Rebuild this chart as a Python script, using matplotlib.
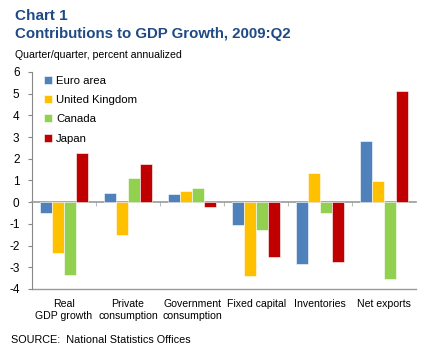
import matplotlib
matplotlib.use('Agg')
import matplotlib.pyplot as plt
import numpy as np

plt.rcParams['font.family'] = ['Liberation Sans', 'DejaVu Sans']

# Data
categories = ['Real\nGDP growth', 'Private\nconsumption', 'Government\nconsumption',
              'Fixed capital', 'Inventories', 'Net exports']
euro = [-0.5, 0.4, 0.37, -1.05, -2.85, 2.83]
uk = [-2.33, -1.5, 0.52, -3.4, 1.32, 0.98]
canada = [-3.37, 1.09, 0.64, -1.3, -0.49, -3.55]
japan = [2.26, 1.77, -0.23, -2.55, -2.77, 5.1]

series = [euro, uk, canada, japan]
labels = ['Euro area', 'United Kingdom', 'Canada', 'Japan']
colors = ['#4F81BD', '#FFC000', '#92D050', '#C00000']

fig = plt.figure(figsize=(4.25, 3.58), dpi=100)
ax = fig.add_axes([0.0753, 0.193, 0.904, 0.606])

x = np.arange(len(categories))
w = 0.185
for i, (vals, lab, col) in enumerate(zip(series, labels, colors)):
    ax.bar(x + (i - 1.5) * w, vals, w, color=col, label=lab, zorder=3,
           edgecolor='white', linewidth=0.4)

ax.set_xlim(-0.5, len(categories) - 0.5)
ax.set_ylim(-4, 6)
ax.set_yticks(range(-4, 7))
ax.set_yticklabels([str(v) for v in range(-4, 7)])
ax.tick_params(axis='y', length=3, width=0.8, color='#888888', labelsize=8.5, pad=6)

# zero line with category-boundary ticks
ax.spines['bottom'].set_position(('data', 0))
ax.spines['bottom'].set_color('#999999')
ax.spines['bottom'].set_linewidth(1.2)
ax.set_xticks(np.arange(0.5, len(categories) - 0.5, 1))
ax.tick_params(axis='x', length=3, direction='out', color='#bbbbbb', labelbottom=False)
ax.spines['top'].set_visible(False)
ax.spines['right'].set_visible(False)
ax.spines['left'].set_color('#888888')
ax.axhline(-4, color='#999999', lw=1.0, clip_on=False, zorder=2)

for xi, cat in zip(x, categories):
    ax.text(xi, -0.045, cat, transform=ax.get_xaxis_transform(), ha='center', va='top',
            fontsize=7.6, linespacing=1.3)

leg = ax.legend(loc='upper left', bbox_to_anchor=(0.005, 1.03), frameon=False, fontsize=8.2,
                handlelength=0.7, handleheight=0.7, handletextpad=0.35, labelspacing=0.82)

fig.text(0.035, 0.955, 'Chart 1', fontsize=11, fontweight='bold', color='#1F4A85', va='center')
fig.text(0.035, 0.905, 'Contributions to GDP Growth, 2009:Q2', fontsize=10.8, fontweight='bold',
         color='#1F4A85', va='center')
fig.text(0.035, 0.847, 'Quarter/quarter, percent annualized', fontsize=7.6, va='center')
fig.text(0.025, 0.05, 'SOURCE:  National Statistics Offices', fontsize=7.8, va='center')

fig.savefig('out.png', dpi=100)
